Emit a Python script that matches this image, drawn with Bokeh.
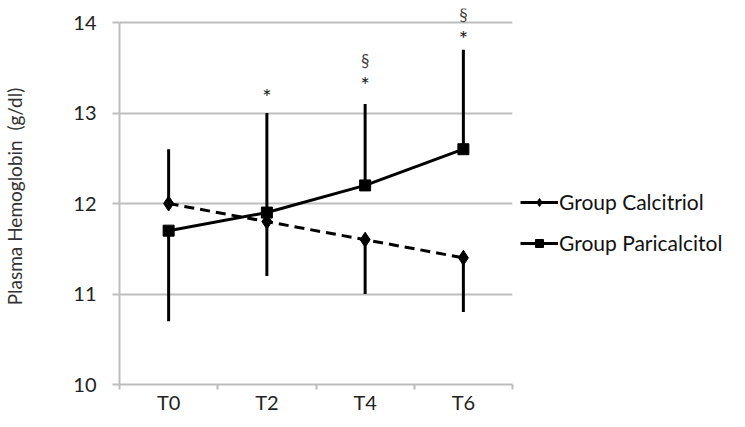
from bokeh.plotting import figure
from bokeh.models import FactorRange, Range1d, LinearAxis, FixedTicker, Legend, LegendItem
from bokeh.embed import file_html
from bokeh.resources import INLINE
from bokeh.core.properties import value

# ---- data ----
times = ["T0", "T2", "T4", "T6"]
calcitriol = [12.0, 11.8, 11.6, 11.4]
calcitriol_bar_end = [12.6, 11.2, 11.0, 10.8]
paricalcitol = [11.7, 11.9, 12.2, 12.6]
paricalcitol_bar_end = [10.7, 13.0, 13.1, 13.7]
star_times = ["T2", "T4", "T6"]
star_y = [13.18, 13.32, 13.82]
star_text = ["*", "*", "*"]
section_times = ["T4", "T6"]
section_y = [13.58, 14.09]
section_text = ["\u00a7", "\u00a7"]
y_ticks = [10, 11, 12, 13, 14]

FONT = "Lato"
GRID = "#bdbdbd"

p = figure(x_range=FactorRange(*times, range_padding=0), y_range=Range1d(10, 14.155),
           frame_width=393, frame_height=376,
           min_border_left=119, min_border_right=225, min_border_top=8, min_border_bottom=40,
           x_axis_location=None, output_backend="svg", toolbar_location=None)
p.outline_line_color = None
p.background_fill_color = "white"

# y axis
p.yaxis.ticker = FixedTicker(ticks=y_ticks)
p.yaxis.bounds = (10, 14)
p.yaxis.axis_line_color = GRID
p.yaxis.axis_line_width = 2
p.yaxis.major_tick_line_color = GRID
p.yaxis.major_tick_line_width = 2
p.yaxis.major_tick_out = 7
p.yaxis.major_tick_in = 0
p.yaxis.minor_tick_line_color = None
p.yaxis.major_label_text_font = FONT
p.yaxis.major_label_text_font_size = "20px"
p.yaxis.major_label_text_color = "#222222"
p.yaxis.major_label_standoff = 16
p.yaxis.axis_label = "Plasma Hemoglobin \u00a0(g/dl)"
p.yaxis.axis_label_text_font = FONT
p.yaxis.axis_label_text_font_size = "19px"
p.yaxis.axis_label_text_font_style = "normal"
p.yaxis.axis_label_text_color = "#333333"
p.yaxis.axis_label_standoff = 44

p.ygrid.ticker = FixedTicker(ticks=y_ticks)
p.ygrid.grid_line_color = GRID
p.ygrid.grid_line_width = 2
p.xgrid.grid_line_color = None

# x axis: category labels at slot centres, tick marks at slot edges
n = len(times)
xaxis = LinearAxis(ticker=FixedTicker(ticks=[i + 0.5 for i in range(n)],
                                      minor_ticks=list(range(n + 1))),
                   major_label_overrides={i + 0.5: t for i, t in enumerate(times)})
xaxis.axis_line_color = GRID
xaxis.axis_line_width = 2
xaxis.major_tick_line_color = None
xaxis.major_tick_out = 0
xaxis.major_tick_in = 0
xaxis.minor_tick_line_color = GRID
xaxis.minor_tick_line_width = 2
xaxis.minor_tick_out = 5
xaxis.minor_tick_in = 0
xaxis.major_label_text_font = FONT
xaxis.major_label_text_font_size = "20px"
xaxis.major_label_text_color = "#222222"
xaxis.major_label_standoff = 0
p.add_layout(xaxis, "below")

# error bars
p.segment(x0=times, y0=calcitriol, x1=times, y1=calcitriol_bar_end, line_width=3, line_color="black")
p.segment(x0=times, y0=paricalcitol, x1=times, y1=paricalcitol_bar_end, line_width=3, line_color="black")

# series
calc_line = p.line(times, calcitriol, line_width=3, line_color="black", line_dash="10 6")
calc_marker = p.scatter(times, calcitriol, marker="diamond", size=15, color="black")
calc_legend_line = p.line(times, calcitriol, line_width=3, line_color="black", visible=False)
pari_line = p.line(times, paricalcitol, line_width=3, line_color="black")
pari_marker = p.scatter(times, paricalcitol, marker="square", size=11, color="black")

# significance marks
p.text(x=star_times, y=star_y, text=star_text, text_font=value(FONT), text_font_size="22px",
       text_align="center", text_baseline="middle", text_color="#222222")
p.text(x=section_times, y=section_y, text=section_text, text_font=value(FONT), text_font_size="17px",
       text_align="center", text_baseline="middle", text_color="#444444")

legend = Legend(items=[LegendItem(label="Group Calcitriol", renderers=[calc_legend_line, calc_marker]),
                       LegendItem(label="Group Paricalcitol", renderers=[pari_line, pari_marker])],
                location=(8, 129))
legend.label_text_font = FONT
legend.label_text_font_size = "21px"
legend.label_text_color = "#111111"
legend.label_standoff = 1
legend.glyph_width = 38
legend.glyph_height = 20
legend.label_height = 20
legend.spacing = 16
legend.padding = 0
legend.margin = 0
legend.border_line_color = None
legend.background_fill_alpha = 0
p.add_layout(legend, "right")

open("out.html", "w").write(file_html(p, INLINE))
